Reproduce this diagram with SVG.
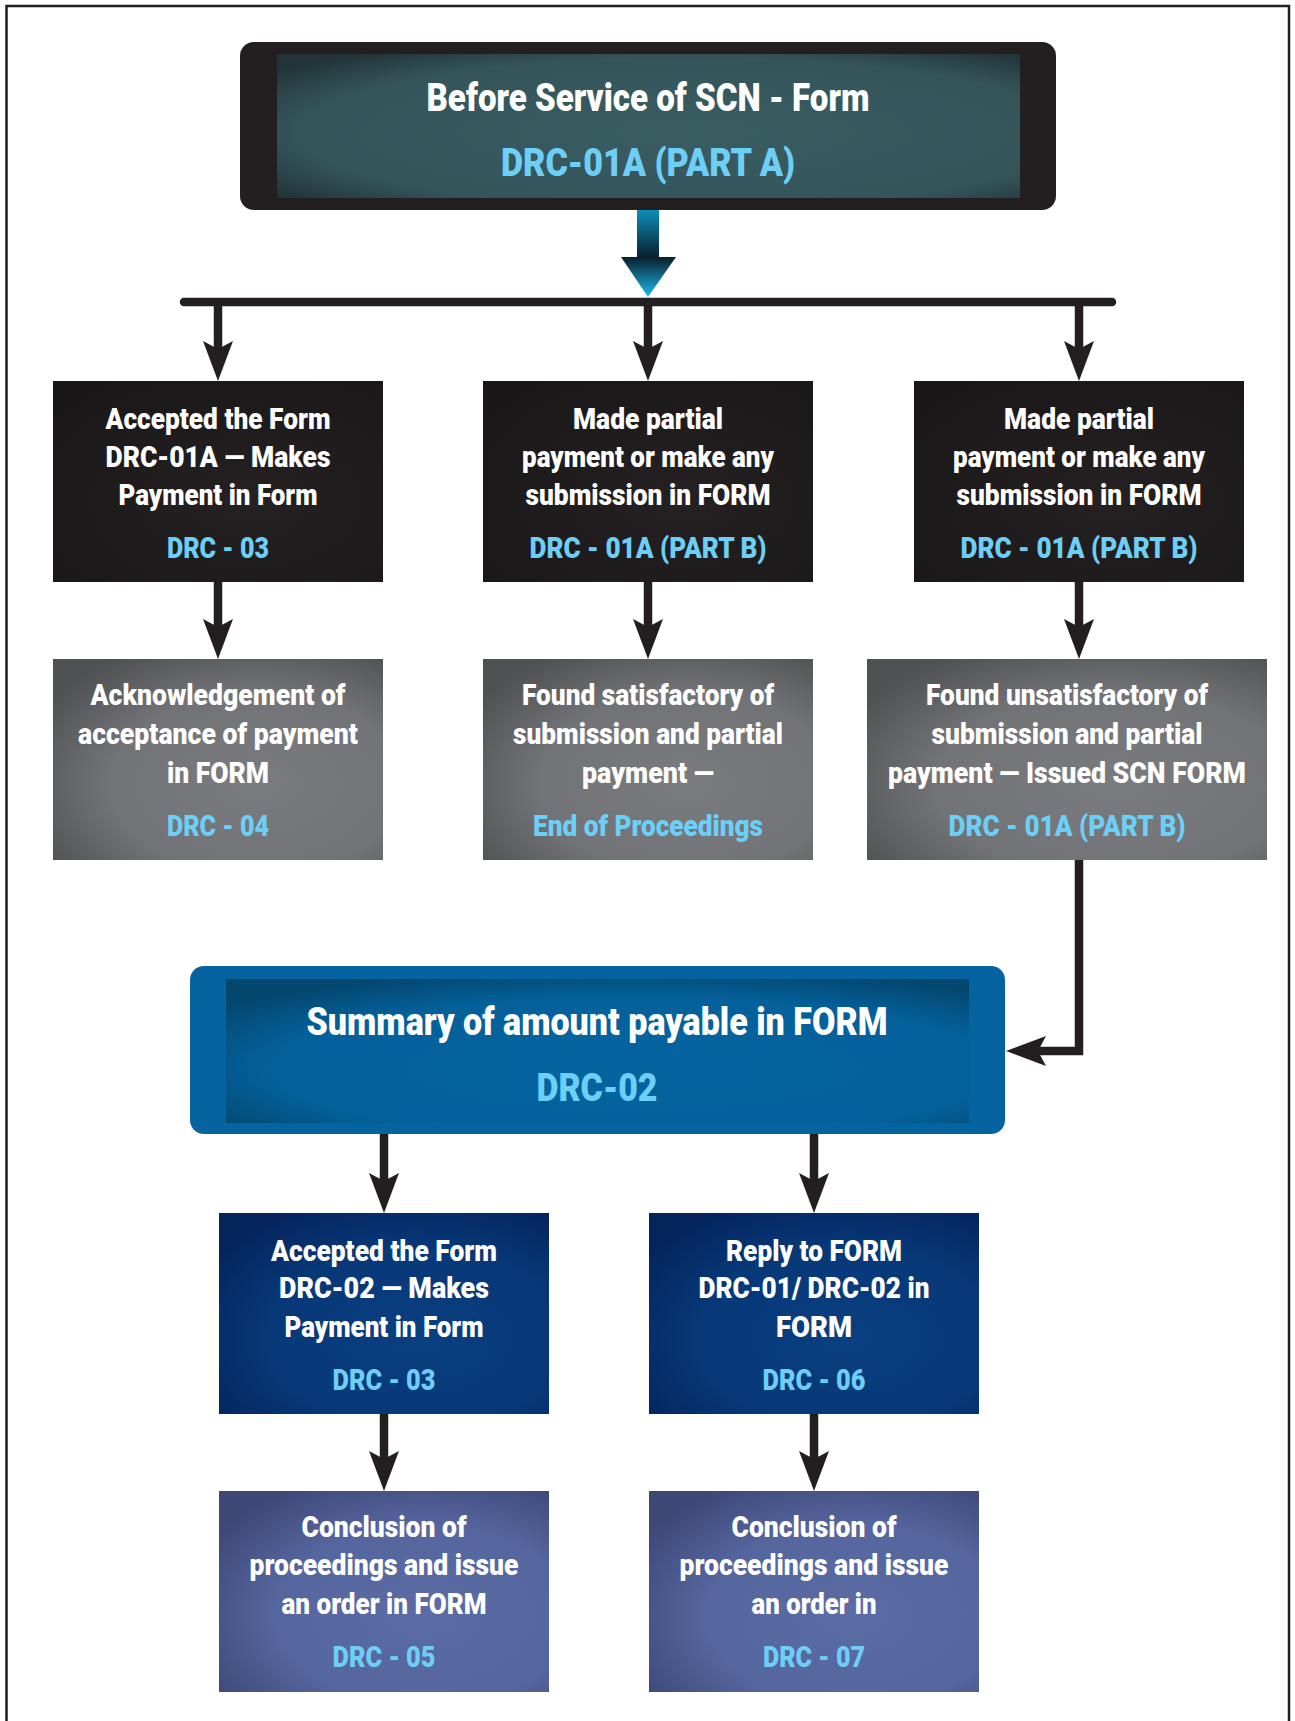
<svg xmlns="http://www.w3.org/2000/svg" width="1295" height="1721" viewBox="0 0 1295 1721">
<style>
.t{font-family:Roboto,"Liberation Sans",sans-serif;font-weight:900;font-size:30px;text-anchor:middle;fill:#ffffff}
.b{fill:#6dcff6}
.big{font-size:38px}
.con{fill:none;stroke:#231f20;stroke-width:8.5}
</style>
<defs>
<marker id="ah" viewBox="0 0 40 30" refX="9" refY="15" markerWidth="40" markerHeight="30" markerUnits="userSpaceOnUse" orient="auto">
<path d="M0,0 L40,15 L0,30 L8,15 Z" fill="#231f20"/>
</marker>
<radialGradient id="gTop" cx="0.55" cy="0.55" r="0.7">
<stop offset="0" stop-color="#3a5d62"/><stop offset="0.75" stop-color="#34545a"/><stop offset="1" stop-color="#223438"/>
</radialGradient>
<radialGradient id="gBlack" cx="0.6" cy="0.6" r="0.75">
<stop offset="0" stop-color="#252122"/><stop offset="1" stop-color="#1a1718"/>
</radialGradient>
<radialGradient id="gGrey" cx="0.62" cy="0.62" r="0.75">
<stop offset="0" stop-color="#7a7b7e"/><stop offset="0.6" stop-color="#727376"/><stop offset="1" stop-color="#505153"/>
</radialGradient>
<radialGradient id="gBlue" cx="0.55" cy="0.62" r="0.7">
<stop offset="0" stop-color="#0564a0"/><stop offset="0.7" stop-color="#04609a"/><stop offset="1" stop-color="#03476f"/>
</radialGradient>
<radialGradient id="gNavy" cx="0.6" cy="0.62" r="0.75">
<stop offset="0" stop-color="#0a3f80"/><stop offset="0.6" stop-color="#073878"/><stop offset="1" stop-color="#04245a"/>
</radialGradient>
<radialGradient id="gSlate" cx="0.62" cy="0.62" r="0.75">
<stop offset="0" stop-color="#5b6ba3"/><stop offset="0.6" stop-color="#55659e"/><stop offset="1" stop-color="#3d4877"/>
</radialGradient>
<linearGradient id="gShaft" x1="0" y1="0" x2="0" y2="1">
<stop offset="0" stop-color="#0c91bd"/><stop offset="1" stop-color="#0a1e2a"/>
</linearGradient>
<linearGradient id="gHead" x1="0" y1="0" x2="0" y2="1">
<stop offset="0" stop-color="#0a1e2a"/><stop offset="1" stop-color="#1abaee"/>
</linearGradient>
</defs>

<path d="M6.5,1721 V6 H1289 V1721" fill="none" stroke="#231f20" stroke-width="2.5"/>

<g id="connectors">
<rect x="637" y="209" width="22" height="49" fill="url(#gShaft)"/>
<polygon points="621,257 676,257 648,297" fill="url(#gHead)"/>
<line x1="184" y1="302" x2="1112" y2="302" stroke="#231f20" stroke-width="8.5" stroke-linecap="round"/>
<line class="con" x1="218" y1="302" x2="218" y2="350" marker-end="url(#ah)"/>
<line class="con" x1="648" y1="302" x2="648" y2="350" marker-end="url(#ah)"/>
<line class="con" x1="1079" y1="302" x2="1079" y2="350" marker-end="url(#ah)"/>
<line class="con" x1="218" y1="582" x2="218" y2="628" marker-end="url(#ah)"/>
<line class="con" x1="648" y1="582" x2="648" y2="628" marker-end="url(#ah)"/>
<line class="con" x1="1079" y1="582" x2="1079" y2="628" marker-end="url(#ah)"/>
<path class="con" d="M1079,860 V1051 H1037" marker-end="url(#ah)"/>
<line class="con" x1="384" y1="1134" x2="384" y2="1182" marker-end="url(#ah)"/>
<line class="con" x1="814" y1="1134" x2="814" y2="1182" marker-end="url(#ah)"/>
<line class="con" x1="384" y1="1414" x2="384" y2="1460" marker-end="url(#ah)"/>
<line class="con" x1="814" y1="1414" x2="814" y2="1460" marker-end="url(#ah)"/>
</g>

<g id="top">
<rect x="240" y="42" width="816" height="168" rx="14" fill="#231f20"/>
<rect x="277" y="54" width="743" height="144" fill="url(#gTop)"/>
<text class="t big" x="648" y="111" textLength="443" lengthAdjust="spacingAndGlyphs">Before Service of SCN - Form</text>
<text class="t big b" x="648" y="176" textLength="294" lengthAdjust="spacingAndGlyphs">DRC-01A (PART A)</text>
</g>

<g id="n1">
<rect x="53" y="381" width="330" height="201" fill="url(#gBlack)"/>
<text class="t" x="218" y="429" textLength="225" lengthAdjust="spacingAndGlyphs">Accepted the Form</text>
<text class="t" x="218" y="467" textLength="225" lengthAdjust="spacingAndGlyphs">DRC-01A — Makes</text>
<text class="t" x="218" y="505" textLength="199" lengthAdjust="spacingAndGlyphs">Payment in Form</text>
<text class="t b" x="218" y="558" textLength="102" lengthAdjust="spacingAndGlyphs">DRC - 03</text>
</g>

<g id="n2">
<rect x="483" y="381" width="330" height="201" fill="url(#gBlack)"/>
<text class="t" x="648" y="429" textLength="150" lengthAdjust="spacingAndGlyphs">Made partial</text>
<text class="t" x="648" y="467" textLength="252" lengthAdjust="spacingAndGlyphs">payment or make any</text>
<text class="t" x="648" y="505" textLength="245" lengthAdjust="spacingAndGlyphs">submission in FORM</text>
<text class="t b" x="648" y="558" textLength="237" lengthAdjust="spacingAndGlyphs">DRC - 01A (PART B)</text>
</g>

<g id="n3">
<rect x="914" y="381" width="330" height="201" fill="url(#gBlack)"/>
<text class="t" x="1079" y="429" textLength="150" lengthAdjust="spacingAndGlyphs">Made partial</text>
<text class="t" x="1079" y="467" textLength="252" lengthAdjust="spacingAndGlyphs">payment or make any</text>
<text class="t" x="1079" y="505" textLength="245" lengthAdjust="spacingAndGlyphs">submission in FORM</text>
<text class="t b" x="1079" y="558" textLength="237" lengthAdjust="spacingAndGlyphs">DRC - 01A (PART B)</text>
</g>

<g id="n4">
<rect x="53" y="659" width="330" height="201" fill="url(#gGrey)"/>
<text class="t" x="218" y="705" textLength="255" lengthAdjust="spacingAndGlyphs">Acknowledgement of</text>
<text class="t" x="218" y="744" textLength="280" lengthAdjust="spacingAndGlyphs">acceptance of payment</text>
<text class="t" x="218" y="783" textLength="102" lengthAdjust="spacingAndGlyphs">in FORM</text>
<text class="t b" x="218" y="836" textLength="102" lengthAdjust="spacingAndGlyphs">DRC - 04</text>
</g>

<g id="n5">
<rect x="483" y="659" width="330" height="201" fill="url(#gGrey)"/>
<text class="t" x="648" y="705" textLength="252" lengthAdjust="spacingAndGlyphs">Found satisfactory of</text>
<text class="t" x="648" y="744" textLength="270" lengthAdjust="spacingAndGlyphs">submission and partial</text>
<text class="t" x="648" y="783" textLength="132" lengthAdjust="spacingAndGlyphs">payment —</text>
<text class="t b" x="648" y="836" textLength="230" lengthAdjust="spacingAndGlyphs">End of Proceedings</text>
</g>

<g id="n6">
<rect x="867" y="659" width="400" height="201" fill="url(#gGrey)"/>
<text class="t" x="1067" y="705" textLength="282" lengthAdjust="spacingAndGlyphs">Found unsatisfactory of</text>
<text class="t" x="1067" y="744" textLength="271" lengthAdjust="spacingAndGlyphs">submission and partial</text>
<text class="t" x="1067" y="783" textLength="358" lengthAdjust="spacingAndGlyphs">payment — Issued SCN FORM</text>
<text class="t b" x="1067" y="836" textLength="237" lengthAdjust="spacingAndGlyphs">DRC - 01A (PART B)</text>
</g>

<g id="summary">
<rect x="190" y="966" width="815" height="168" rx="14" fill="#0563a0"/>
<rect x="226" y="979" width="743" height="144" fill="url(#gBlue)"/>
<text class="t big" x="597" y="1035" textLength="581" lengthAdjust="spacingAndGlyphs">Summary of amount payable in FORM</text>
<text class="t big b" x="597" y="1101" textLength="121" lengthAdjust="spacingAndGlyphs">DRC-02</text>
</g>

<g id="n7">
<rect x="219" y="1213" width="330" height="201" fill="url(#gNavy)"/>
<text class="t" x="384" y="1261" textLength="226" lengthAdjust="spacingAndGlyphs">Accepted the Form</text>
<text class="t" x="384" y="1298" textLength="210" lengthAdjust="spacingAndGlyphs">DRC-02 — Makes</text>
<text class="t" x="384" y="1337" textLength="199" lengthAdjust="spacingAndGlyphs">Payment in Form</text>
<text class="t b" x="384" y="1390" textLength="103" lengthAdjust="spacingAndGlyphs">DRC - 03</text>
</g>

<g id="n8">
<rect x="649" y="1213" width="330" height="201" fill="url(#gNavy)"/>
<text class="t" x="814" y="1261" textLength="176" lengthAdjust="spacingAndGlyphs">Reply to FORM</text>
<text class="t" x="814" y="1298" textLength="231" lengthAdjust="spacingAndGlyphs">DRC-01/ DRC-02 in</text>
<text class="t" x="814" y="1337" textLength="76" lengthAdjust="spacingAndGlyphs">FORM</text>
<text class="t b" x="814" y="1390" textLength="103" lengthAdjust="spacingAndGlyphs">DRC - 06</text>
</g>

<g id="n9">
<rect x="219" y="1491" width="330" height="201" fill="url(#gSlate)"/>
<text class="t" x="384" y="1537" textLength="165" lengthAdjust="spacingAndGlyphs">Conclusion of</text>
<text class="t" x="384" y="1575" textLength="269" lengthAdjust="spacingAndGlyphs">proceedings and issue</text>
<text class="t" x="384" y="1614" textLength="205" lengthAdjust="spacingAndGlyphs">an order in FORM</text>
<text class="t b" x="384" y="1667" textLength="103" lengthAdjust="spacingAndGlyphs">DRC - 05</text>
</g>

<g id="n10">
<rect x="649" y="1491" width="330" height="201" fill="url(#gSlate)"/>
<text class="t" x="814" y="1537" textLength="165" lengthAdjust="spacingAndGlyphs">Conclusion of</text>
<text class="t" x="814" y="1575" textLength="269" lengthAdjust="spacingAndGlyphs">proceedings and issue</text>
<text class="t" x="814" y="1614" textLength="125" lengthAdjust="spacingAndGlyphs">an order in</text>
<text class="t b" x="814" y="1667" textLength="102" lengthAdjust="spacingAndGlyphs">DRC - 07</text>
</g>
</svg>
